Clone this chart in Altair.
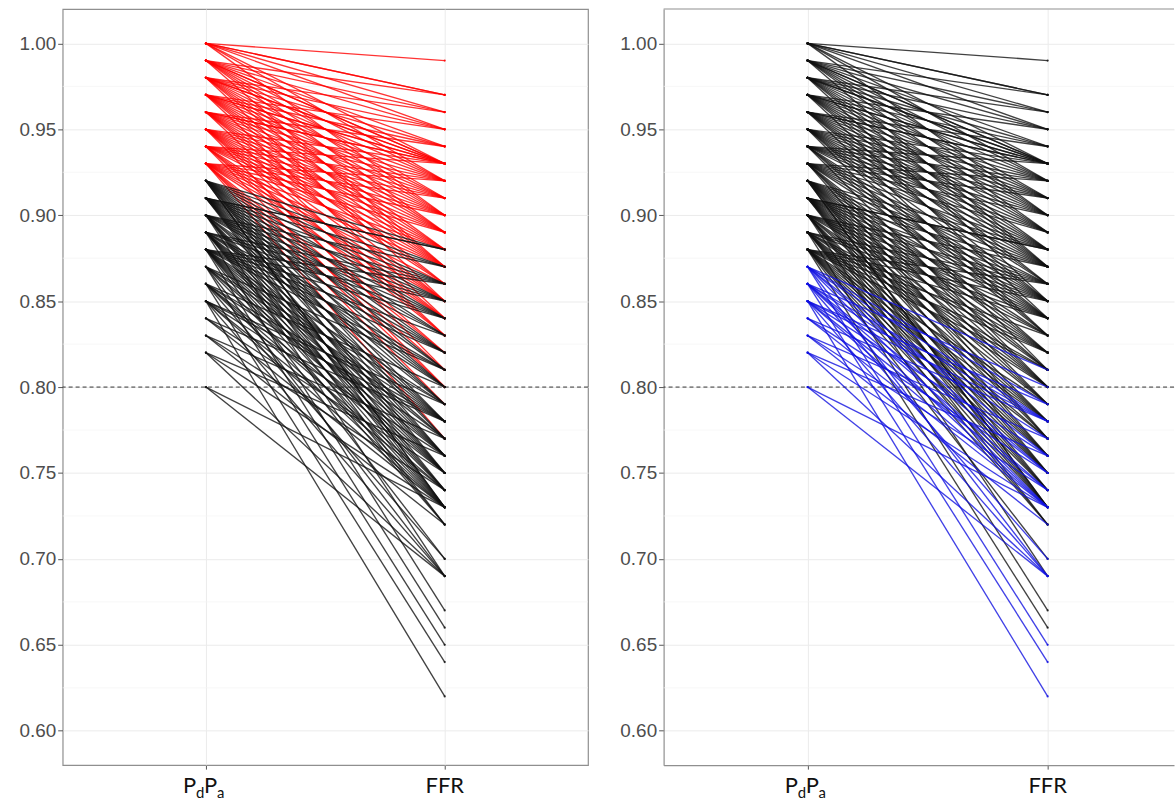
import altair as alt
import pandas as pd

# ---------------- data ----------------
PDPA_STARTS = [1.00, 0.99, 0.98, 0.97, 0.96, 0.95, 0.94, 0.93, 0.92, 0.91,
               0.90, 0.89, 0.88, 0.87, 0.86, 0.85, 0.84, 0.83, 0.82, 0.80]

ffr_from_100 = [0.99, 0.97, 0.97, 0.96, 0.95, 0.93, 0.92, 0.90]
ffr_from_099 = [0.97, 0.96, 0.95, 0.94, 0.93, 0.93, 0.92, 0.91, 0.90, 0.89, 0.87]
ffr_from_098 = [0.96, 0.95, 0.94, 0.93, 0.93, 0.92, 0.91, 0.90, 0.89, 0.88, 0.87, 0.85]
ffr_from_097 = [0.95, 0.94, 0.93, 0.93, 0.92, 0.91, 0.90, 0.89, 0.88, 0.87, 0.86, 0.84]
ffr_from_096 = [0.94, 0.93, 0.93, 0.92, 0.91, 0.90, 0.89, 0.88, 0.87, 0.86, 0.85, 0.83]
ffr_from_095 = [0.93, 0.92, 0.91, 0.90, 0.89, 0.88, 0.87, 0.86, 0.85, 0.84, 0.83, 0.81]
ffr_from_094 = [0.93, 0.92, 0.91, 0.90, 0.89, 0.88, 0.87, 0.85, 0.84, 0.83, 0.82, 0.80]
ffr_from_093 = [0.92, 0.91, 0.90, 0.89, 0.88, 0.87, 0.86, 0.85, 0.84, 0.82, 0.81, 0.80, 0.79, 0.77]
ffr_from_092 = [0.88, 0.87, 0.86, 0.85, 0.84, 0.83, 0.82, 0.81, 0.80, 0.79, 0.78, 0.77, 0.76, 0.75, 0.73, 0.73]
ffr_from_091 = [0.88, 0.88, 0.87, 0.86, 0.85, 0.84, 0.83, 0.82, 0.81, 0.80, 0.79, 0.78, 0.77, 0.76, 0.75, 0.74, 0.73]
ffr_from_090 = [0.87, 0.86, 0.85, 0.84, 0.83, 0.82, 0.80, 0.79, 0.78, 0.76, 0.75, 0.74, 0.73, 0.72, 0.69]
ffr_from_089 = [0.86, 0.85, 0.84, 0.82, 0.81, 0.80, 0.78, 0.77, 0.76, 0.75, 0.74, 0.73, 0.72, 0.67]
ffr_from_088 = [0.86, 0.85, 0.84, 0.83, 0.82, 0.81, 0.79, 0.78, 0.77, 0.76, 0.75, 0.74, 0.73, 0.72, 0.70, 0.66]
ffr_from_087 = [0.81, 0.79, 0.78, 0.76, 0.75, 0.73, 0.69, 0.65]
ffr_from_086 = [0.80, 0.78, 0.77, 0.75, 0.74, 0.73, 0.70, 0.64]
ffr_from_085 = [0.79, 0.78, 0.76, 0.74, 0.73, 0.69, 0.62]
ffr_from_084 = [0.78, 0.75, 0.73]
ffr_from_083 = [0.77, 0.74, 0.72]
ffr_from_082 = [0.76, 0.73, 0.69]
ffr_from_080 = [0.73, 0.69]

FFR_ENDS = [ffr_from_100, ffr_from_099, ffr_from_098, ffr_from_097, ffr_from_096,
            ffr_from_095, ffr_from_094, ffr_from_093, ffr_from_092, ffr_from_091,
            ffr_from_090, ffr_from_089, ffr_from_088, ffr_from_087, ffr_from_086,
            ffr_from_085, ffr_from_084, ffr_from_083, ffr_from_082, ffr_from_080]

MAJOR_BREAKS = [0.60, 0.65, 0.70, 0.75, 0.80, 0.85, 0.90, 0.95, 1.00]
MINOR_BREAKS = [0.625, 0.675, 0.725, 0.775, 0.825, 0.875, 0.925, 0.975]
CUTOFF = [0.80]
LEFT_RED_FROM = 0.93     # PdPa >= 0.93 drawn red in left panel
RIGHT_BLUE_TO = 0.87     # PdPa <= 0.87 drawn blue in right panel

rows = []
lid = 0
for start, ends in zip(PDPA_STARTS, FFR_ENDS):
    for ffr in ends:
        lid += 1
        rows.append({"id": lid, "stage": 0, "value": start, "pdpa": start})
        rows.append({"id": lid, "stage": 1, "value": ffr, "pdpa": start})
df = pd.DataFrame(rows)
df["left_grp"] = ["red" if p >= LEFT_RED_FROM - 1e-9 else "black" for p in df["pdpa"]]
df["right_grp"] = ["blue" if p <= RIGHT_BLUE_TO + 1e-9 else "black" for p in df["pdpa"]]

BORDER = "#8F8F8F"
GRID = "#EBEBEB"
MINOR = "#F3F3F3"
H = 760


def panel(grp, width, x_domain, right):
    xs = alt.Scale(domain=x_domain, nice=False, zero=False)
    ys = alt.Scale(domain=[0.58, 1.02], nice=False, zero=False)
    xax = alt.Axis(values=[0, 1], labels=False, ticks=True, tickSize=4,
                   tickColor="#555555", grid=True, gridColor=GRID, gridWidth=1,
                   domain=right, domainColor=BORDER, domainWidth=1.2, title=None)
    yax = alt.Axis(values=MAJOR_BREAKS, format=".2f", labelFont="Liberation Sans",
                   labelFontSize=19, labelColor="#4D4D4D", tickSize=5,
                   tickColor="#555555", labelPadding=2, grid=True, gridColor=GRID,
                   gridWidth=1, domain=right, domainColor=BORDER, domainWidth=1.2,
                   title=None)

    minor = alt.Chart(pd.DataFrame({"value": MINOR_BREAKS})).mark_rule(
        color=MINOR, strokeWidth=0.7).encode(
        y=alt.Y("value:Q", scale=ys, axis=yax))

    cut = alt.Chart(pd.DataFrame({"value": CUTOFF})).mark_rule(
        color="#333333", strokeWidth=1, strokeDash=[4, 3]).encode(
        y=alt.Y("value:Q", scale=ys))

    cscale = alt.Scale(domain=["red", "black", "blue"],
                       range=["#FF0000", "#111111", "#1010E0"])
    lines = alt.Chart(df).mark_line(strokeWidth=1.35, opacity=0.8).encode(
        x=alt.X("stage:Q", scale=xs, axis=xax),
        y=alt.Y("value:Q", scale=ys),
        detail="id:N",
        color=alt.Color(f"{grp}:N", scale=cscale, legend=None),
    )
    pts = alt.Chart(df).mark_point(filled=True, size=5, opacity=0.85).encode(
        x=alt.X("stage:Q", scale=xs),
        y=alt.Y("value:Q", scale=ys),
        color=alt.Color(f"{grp}:N", scale=cscale, legend=None),
    )

    lab_ffr = alt.Chart(pd.DataFrame({"stage": [1], "t": ["FFR"]})).mark_text(
        font="Lato", fontSize=22, align="center", baseline="alphabetic",
        color="#111111").encode(x=alt.X("stage:Q", scale=xs), y=alt.value(788), text="t:N")

    def piece(txt, dx, size, ybase):
        return alt.Chart(pd.DataFrame({"stage": [0], "t": [txt]})).mark_text(
            font="Lato", fontSize=size, align="left", baseline="alphabetic",
            color="#111111", dx=dx).encode(
            x=alt.X("stage:Q", scale=xs), y=alt.value(ybase), text="t:N")

    layers = [minor, cut, lines, pts, lab_ffr,
              piece("P", -23, 22, 788), piece("d", -10, 15, 793),
              piece("P", -2, 22, 788), piece("a", 11, 15, 793)]
    if right:
        top = alt.Chart(pd.DataFrame({"a": [0]})).mark_rule(
            color=BORDER, strokeWidth=1.2).encode(
            x=alt.value(0), x2=alt.value(width), y=alt.value(0))
        layers.append(top)
    ch = alt.layer(*layers).properties(width=width, height=H)
    if right:
        ch = ch.properties(view=alt.ViewBackground(stroke="transparent"))
    return ch


left = panel("left_grp", 528, [-0.6, 1.6], False)
right = panel("right_grp", 513, [-0.6, 1.5264], True)

chart = alt.hconcat(left, right, spacing=29).properties(
    padding={"left": 18, "top": 5, "right": 0, "bottom": 0},
    background="white",
).configure_view(stroke=BORDER, strokeWidth=1.2)

chart.save("out.html", embed_options={"renderer": "svg", "actions": False})
